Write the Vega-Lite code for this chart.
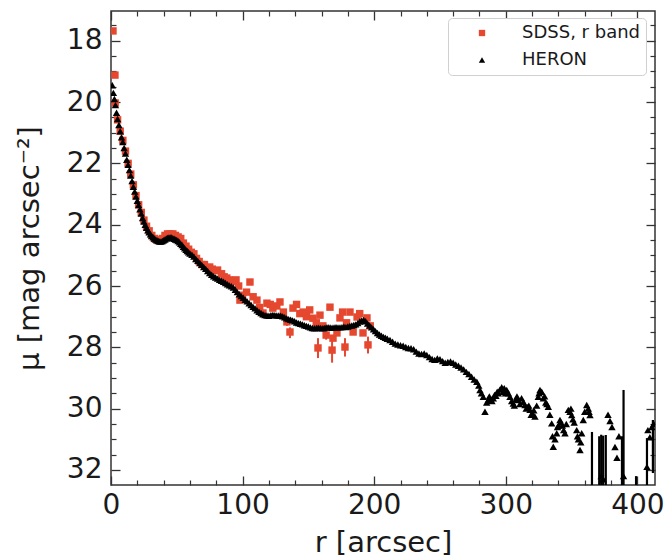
{
  "$schema": "https://vega.github.io/schema/vega-lite/v6.json",
  "width": 544,
  "height": 474,
  "autosize": {"type": "none"},
  "padding": {"left": 111, "top": 11, "right": 9, "bottom": 72},
  "background": "white",
  "config": {"view": {"stroke": "#333333", "strokeWidth": 1.5}, "font": "DejaVu Sans"},
  "datasets": {
    "sdss": [
      {"r":1.5,"mu":17.68},{"r":3,"mu":19.12},{"r":3.2,"mu":20.03},{"r":5,"mu":20.58},{"r":7,"mu":20.95},{"r":9,"mu":21.25},{"r":11,"mu":21.6},{"r":13,"mu":22.0},{"r":15,"mu":22.35},{"r":17,"mu":22.7},{"r":19,"mu":23.05},{"r":21,"mu":23.35},{"r":23,"mu":23.6},{"r":25,"mu":23.85},{"r":27,"mu":24.05},{"r":29,"mu":24.2},{"r":31,"mu":24.35},{"r":33,"mu":24.45},{"r":35,"mu":24.5},{"r":37,"mu":24.5},{"r":39,"mu":24.45},{"r":41,"mu":24.35},{"r":43,"mu":24.3},{"r":45,"mu":24.3},{"r":47,"mu":24.3},{"r":49,"mu":24.35},{"r":51,"mu":24.4},{"r":53,"mu":24.45},{"r":55,"mu":24.6},{"r":57,"mu":24.7},{"r":59,"mu":24.8},{"r":61,"mu":24.9},{"r":63,"mu":24.95},{"r":65,"mu":25.1},{"r":67,"mu":25.2},{"r":69,"mu":25.3},{"r":71,"mu":25.3},{"r":73,"mu":25.4},{"r":75,"mu":25.38},{"r":77,"mu":25.45},{"r":79,"mu":25.5},{"r":81,"mu":25.48},{"r":84,"mu":25.6},{"r":86,"mu":25.7},{"r":88,"mu":25.74},{"r":90,"mu":25.8},{"r":92,"mu":25.85},{"r":95,"mu":25.8},{"r":97,"mu":26.0},{"r":98,"mu":26.46},{"r":100,"mu":26.3},{"r":103,"mu":26.2},{"r":105.6,"mu":25.87},{"r":108,"mu":26.35},{"r":110.9,"mu":26.46},{"r":113,"mu":26.7},{"r":115.5,"mu":26.88},{"r":118.5,"mu":26.56},{"r":121,"mu":26.6},{"r":123,"mu":26.72},{"r":126,"mu":26.65},{"r":128.4,"mu":26.52},{"r":131,"mu":26.85},{"r":133.7,"mu":27.17},{"r":136,"mu":27.5},{"r":138.3,"mu":26.72},{"r":141,"mu":26.6},{"r":143.5,"mu":26.9},{"r":146,"mu":26.85},{"r":148.5,"mu":27.0},{"r":151,"mu":26.78},{"r":153.5,"mu":27.05},{"r":156,"mu":27.2},{"r":157.3,"mu":28.02},{"r":158.8,"mu":26.95},{"r":161,"mu":27.3},{"r":163.5,"mu":27.6},{"r":166.4,"mu":26.69},{"r":168,"mu":28.09},{"r":168.7,"mu":27.7},{"r":171.7,"mu":27.53},{"r":174,"mu":27.04},{"r":176,"mu":26.85},{"r":177.8,"mu":27.99},{"r":179,"mu":27.2},{"r":181.6,"mu":26.85},{"r":184,"mu":27.5},{"r":187,"mu":27.01},{"r":189,"mu":26.9},{"r":191.5,"mu":27.53},{"r":194.5,"mu":27.04},{"r":195.3,"mu":27.92},{"r":197,"mu":27.3}
    ],
    "sdssErr": [
      {"r":136,"lo":27.35,"hi":27.7},{"r":157.3,"lo":27.7,"hi":28.35},{"r":168,"lo":27.7,"hi":28.5},{"r":177.8,"lo":27.7,"hi":28.3},{"r":195.3,"lo":27.65,"hi":28.2},{"r":163.5,"lo":27.45,"hi":27.75},{"r":133.7,"lo":27.05,"hi":27.3}
    ],
    "heron": [
      {"r":1,"mu":19.45},{"r":1.8,"mu":19.7},{"r":2.6,"mu":19.9},{"r":3.4,"mu":20.1},{"r":4.2,"mu":20.35},{"r":5,"mu":20.55},{"r":6,"mu":20.75},{"r":7,"mu":20.95},{"r":8,"mu":21.15},{"r":9,"mu":21.3},{"r":10,"mu":21.5},{"r":11,"mu":21.68},{"r":12,"mu":21.88},{"r":13,"mu":22.05},{"r":14,"mu":22.22},{"r":15,"mu":22.4},{"r":16,"mu":22.58},{"r":17,"mu":22.76},{"r":18,"mu":22.92},{"r":19,"mu":23.08},{"r":20,"mu":23.22},{"r":21,"mu":23.36},{"r":22,"mu":23.5},{"r":23,"mu":23.64},{"r":24,"mu":23.78},{"r":25,"mu":23.9},{"r":26,"mu":24.0},{"r":27,"mu":24.1},{"r":28,"mu":24.18},{"r":29,"mu":24.25},{"r":30,"mu":24.31},{"r":31,"mu":24.37},{"r":32,"mu":24.41},{"r":33,"mu":24.45},{"r":34,"mu":24.48},{"r":35,"mu":24.51},{"r":36,"mu":24.53},{"r":37,"mu":24.55},{"r":38,"mu":24.55},{"r":39,"mu":24.53},{"r":40,"mu":24.51},{"r":41,"mu":24.48},{"r":42,"mu":24.45},{"r":43,"mu":24.43},{"r":44,"mu":24.42},{"r":45,"mu":24.42},{"r":46,"mu":24.42},{"r":47,"mu":24.44},{"r":48,"mu":24.46},{"r":49,"mu":24.48},{"r":50,"mu":24.5},{"r":51,"mu":24.53},{"r":52,"mu":24.57},{"r":53,"mu":24.62},{"r":54,"mu":24.66},{"r":55,"mu":24.72},{"r":56,"mu":24.77},{"r":57,"mu":24.82},{"r":58,"mu":24.86},{"r":59,"mu":24.9},{"r":60,"mu":24.94},
      {"r":61.5,"mu":24.98},{"r":63,"mu":25.04},{"r":64.5,"mu":25.12},{"r":66,"mu":25.18},{"r":67.5,"mu":25.25},{"r":69,"mu":25.31},{"r":70.5,"mu":25.38},{"r":72,"mu":25.44},{"r":73.5,"mu":25.51},{"r":75,"mu":25.58},{"r":76.5,"mu":25.63},{"r":78,"mu":25.68},{"r":79.5,"mu":25.72},{"r":81,"mu":25.76},{"r":82.5,"mu":25.8},{"r":84,"mu":25.83},{"r":85.5,"mu":25.86},{"r":87,"mu":25.9},{"r":88.5,"mu":25.94},{"r":90,"mu":25.98},{"r":91.5,"mu":26.01},{"r":93,"mu":26.05},{"r":94.5,"mu":26.12},{"r":96,"mu":26.2},{"r":97.5,"mu":26.27},{"r":99,"mu":26.33},{"r":100.5,"mu":26.38},{"r":102,"mu":26.45},{"r":103.5,"mu":26.5},{"r":105,"mu":26.56},{"r":106.5,"mu":26.62},{"r":108,"mu":26.68},{"r":109.5,"mu":26.73},{"r":111,"mu":26.79},{"r":112.5,"mu":26.84},{"r":114,"mu":26.88},{"r":115.5,"mu":26.92},{"r":117,"mu":26.95},{"r":118.5,"mu":26.96},{"r":120,"mu":26.97},{"r":121.5,"mu":26.95},{"r":123,"mu":26.94},{"r":124.5,"mu":26.95},{"r":126,"mu":26.96},{"r":127.5,"mu":26.96},{"r":129,"mu":26.97},{"r":130.5,"mu":26.99},{"r":132,"mu":27.02},{"r":133.5,"mu":27.05},{"r":135,"mu":27.08},{"r":136.5,"mu":27.1},{"r":138,"mu":27.12},{"r":139.5,"mu":27.15},{"r":141,"mu":27.19},{"r":142.5,"mu":27.21},{"r":144,"mu":27.23},{"r":145.5,"mu":27.25},{"r":147,"mu":27.28},{"r":148.5,"mu":27.3},{"r":150,"mu":27.32},{"r":151.5,"mu":27.35},{"r":153,"mu":27.37},{"r":154.5,"mu":27.38},{"r":156,"mu":27.37},{"r":157.5,"mu":27.36},{"r":159,"mu":27.37},{"r":160.5,"mu":27.38},{"r":162,"mu":27.37},{"r":163.5,"mu":27.35},{"r":165,"mu":27.34},{"r":166.5,"mu":27.35},{"r":168,"mu":27.36},{"r":169.5,"mu":27.35},{"r":171,"mu":27.34},{"r":172.5,"mu":27.35},{"r":174,"mu":27.35},{"r":175.5,"mu":27.34},{"r":177,"mu":27.33},{"r":178.5,"mu":27.34},{"r":180,"mu":27.32},{"r":181.5,"mu":27.3},{"r":183,"mu":27.29},{"r":184.5,"mu":27.27},{"r":186,"mu":27.25},{"r":187.5,"mu":27.21},{"r":189,"mu":27.16},{"r":190.5,"mu":27.12},{"r":192,"mu":27.11},{"r":193.5,"mu":27.15},{"r":195,"mu":27.22},{"r":196.5,"mu":27.29},{"r":198,"mu":27.35},{"r":199.5,"mu":27.41},
      {"r":201,"mu":27.47},{"r":202.5,"mu":27.53},{"r":204,"mu":27.58},{"r":205.5,"mu":27.62},{"r":207,"mu":27.66},{"r":208.5,"mu":27.69},{"r":210,"mu":27.72},{"r":212,"mu":27.76},{"r":214,"mu":27.82},{"r":216,"mu":27.88},{"r":218,"mu":27.91},{"r":220,"mu":27.93},{"r":222,"mu":27.95},{"r":224,"mu":27.99},{"r":226,"mu":28.02},{"r":228,"mu":28.03},{"r":230,"mu":28.06},{"r":232,"mu":28.14},{"r":234,"mu":28.2},{"r":236,"mu":28.22},{"r":238,"mu":28.2},{"r":240,"mu":28.25},{"r":242,"mu":28.32},{"r":244,"mu":28.38},{"r":246,"mu":28.41},{"r":248,"mu":28.36},{"r":250,"mu":28.39},{"r":252,"mu":28.45},{"r":254,"mu":28.5},{"r":256,"mu":28.48},{"r":258,"mu":28.46},{"r":260,"mu":28.5},{"r":262,"mu":28.56},{"r":264,"mu":28.6},{"r":266,"mu":28.66},{"r":268,"mu":28.72},{"r":270,"mu":28.8},{"r":272,"mu":28.87},{"r":274,"mu":28.96},{"r":276,"mu":29.05},{"r":278,"mu":29.12},{"r":280.4,"mu":29.39},{"r":282.9,"mu":29.61},{"r":284.2,"mu":30.1},{"r":286.7,"mu":29.72},{"r":288.5,"mu":29.68},{"r":290.5,"mu":29.66},{"r":292.5,"mu":29.58},{"r":294.3,"mu":29.5},{"r":296.9,"mu":29.3},{"r":298.8,"mu":29.33},{"r":300.7,"mu":29.39},{"r":303.2,"mu":29.61},{"r":305.7,"mu":29.83},{"r":307.6,"mu":29.7},{"r":309.5,"mu":29.72},{"r":312,"mu":29.66},{"r":314.6,"mu":29.88},{"r":316.5,"mu":29.95},{"r":318.4,"mu":30.04},{"r":320.3,"mu":30.15},{"r":322.2,"mu":30.26},{"r":324.7,"mu":29.61},{"r":326,"mu":29.39},{"r":327.3,"mu":29.45},{"r":328.5,"mu":29.66},{"r":330.4,"mu":29.8},{"r":332.3,"mu":29.94},{"r":334.9,"mu":30.48},{"r":336.1,"mu":31.24},{"r":337.4,"mu":31.0},{"r":338.7,"mu":30.8},{"r":340,"mu":30.55},{"r":341.2,"mu":30.37},{"r":343,"mu":30.55},{"r":345,"mu":30.8},{"r":347.5,"mu":30.04},{"r":348.8,"mu":30.1},{"r":350.1,"mu":30.21},{"r":352,"mu":30.45},{"r":353.9,"mu":30.7},{"r":355.2,"mu":31.0},{"r":356.4,"mu":31.35},{"r":357.7,"mu":30.8},{"r":358.9,"mu":30.37},{"r":361.5,"mu":29.88},{"r":362.7,"mu":30.0},{"r":364,"mu":30.21},{"r":372.5,"mu":32.2},{"r":374,"mu":32.3},{"r":377.7,"mu":30.2},{"r":379.2,"mu":30.4},{"r":380.7,"mu":30.6},{"r":383,"mu":31.25},{"r":384.5,"mu":31.6},{"r":386,"mu":30.9},{"r":389.5,"mu":32.2},{"r":407.3,"mu":31.9},{"r":408,"mu":30.7},{"r":409.5,"mu":30.93},{"r":411,"mu":30.6},{"r":412.5,"mu":30.5},
      {"r":279.5,"mu":29.25},{"r":281.5,"mu":29.5},{"r":285.5,"mu":29.8},{"r":287.5,"mu":29.6},{"r":289.5,"mu":29.75},{"r":291.5,"mu":29.55},{"r":293.5,"mu":29.45},{"r":295.5,"mu":29.38},{"r":297.8,"mu":29.45},{"r":299.8,"mu":29.5},{"r":302,"mu":29.5},{"r":304.5,"mu":29.75},{"r":306.5,"mu":29.9},{"r":308.5,"mu":29.6},{"r":310.7,"mu":29.85},{"r":313.3,"mu":29.78},{"r":315.5,"mu":30.0},{"r":317.5,"mu":29.9},{"r":319.3,"mu":30.2},{"r":321.3,"mu":30.05},{"r":323.5,"mu":29.9},{"r":325.3,"mu":29.5},{"r":329.5,"mu":29.6},{"r":331.3,"mu":29.85},{"r":333.5,"mu":30.2},{"r":335.5,"mu":30.9},{"r":339.3,"mu":30.6},{"r":342,"mu":30.45},{"r":344,"mu":30.7},{"r":346,"mu":30.5},{"r":349.5,"mu":30.0},{"r":351,"mu":30.35},{"r":354.5,"mu":30.9},{"r":357,"mu":31.1},{"r":360,"mu":30.1},{"r":363.3,"mu":30.1}
    ],
    "heronErr": [
      {"r":365.5,"lo":30.76,"hi":34.8},{"r":371,"lo":30.9,"hi":33.9},{"r":372.5,"lo":30.85,"hi":33.6},{"r":374,"lo":30.88,"hi":33.7},{"r":376,"lo":30.86,"hi":33.9},{"r":388.3,"lo":30.9,"hi":33.3},{"r":389.5,"lo":29.39,"hi":35},{"r":399,"lo":32.2,"hi":33.2},{"r":407.3,"lo":30.96,"hi":32.9},{"r":411.8,"lo":30.37,"hi":32.1}
    ]
  },
  "layer": [
    {
      "data": {"name": "sdssErr"},
      "mark": {"type": "rule", "color": "#e5472f", "strokeWidth": 2, "clip": true},
      "encoding": {
        "x": {"field": "r", "type": "quantitative",
          "scale": {"domain": [0, 413.4], "nice": false, "zero": false},
          "axis": {"orient": "bottom", "values": [0,100,200,300,400], "format": "d",
            "title": "r [arcsec]", "domain": false, "grid": false,
            "offset": -9, "tickSize": 9, "tickColor": "#333333", "tickWidth": 1.3,
            "labelFontSize": 28, "labelColor": "#1a1a1a", "labelPadding": 6, "labelFlush": false, "labelOverlap": false,
            "titleFontSize": 29, "titleFontWeight": "normal", "titleColor": "#1a1a1a", "titlePadding": 9}},
        "y": {"field": "lo", "type": "quantitative",
          "scale": {"domain": [17.03, 32.49], "reverse": true, "nice": false, "zero": false},
          "axis": {"orient": "left", "values": [18,20,22,24,26,28,30,32], "format": "d",
            "title": "μ [mag arcsec⁻²]", "domain": false, "grid": false,
            "offset": -9, "tickSize": 9, "tickColor": "#333333", "tickWidth": 1.3,
            "labelFontSize": 28, "labelColor": "#1a1a1a", "labelPadding": 9, "labelOverlap": false,
            "titleFontSize": 29, "titleFontWeight": "normal", "titleColor": "#1a1a1a", "titlePadding": 22}},
        "y2": {"field": "hi"}
      }
    },
    {
      "data": {"name": "sdss"},
      "mark": {"type": "point", "filled": true, "size": 55, "opacity": 1, "clip": true},
      "encoding": {
        "x": {"field": "r", "type": "quantitative",
          "axis": {"orient": "top", "values": [0,100,200,300,400], "labels": false, "title": null, "domain": false, "grid": false,
            "offset": -9, "tickSize": 9, "tickColor": "#333333", "tickWidth": 1.3}},
        "y": {"field": "mu", "type": "quantitative",
          "axis": {"orient": "right", "values": [18,20,22,24,26,28,30,32], "labels": false, "title": null, "domain": false, "grid": false,
            "offset": -9, "tickSize": 9, "tickColor": "#333333", "tickWidth": 1.3}},
        "color": {"datum": "SDSS, r band", "type": "nominal",
          "scale": {"domain": ["SDSS, r band", "HERON"], "range": ["#e5472f", "#000000"]},
          "legend": {"orient": "none", "legendX": 337, "legendY": 7, "title": null, "labelFontSize": 18, "labelFont": "DejaVu Sans", "labelColor": "#1a1a1a", "labelExpr": "datum.label + '\u00a0\u00a0'", "symbolSize": 40, "strokeColor": "#d0d0d0", "fillColor": "white", "cornerRadius": 4, "padding": 6, "rowPadding": 9, "symbolOffset": 19, "labelOffset": 31, "labelLimit": 300}},
        "shape": {"datum": "SDSS, r band", "type": "nominal",
          "scale": {"domain": ["SDSS, r band", "HERON"], "range": ["square", "triangle-up"]},
          "legend": {"orient": "none", "legendX": 337, "legendY": 7, "title": null, "labelFontSize": 18, "labelFont": "DejaVu Sans", "labelColor": "#1a1a1a", "labelExpr": "datum.label + '\u00a0\u00a0'", "symbolSize": 40, "strokeColor": "#d0d0d0", "fillColor": "white", "cornerRadius": 4, "padding": 6, "rowPadding": 9, "symbolOffset": 19, "labelOffset": 31, "labelLimit": 300}}
      }
    },
    {
      "data": {"name": "heronErr"},
      "mark": {"type": "rule", "color": "#000000", "strokeWidth": 2.2, "clip": true},
      "encoding": {
        "x": {"field": "r", "type": "quantitative",
          "axis": {"orient": "bottom", "values": [20,40,60,80,120,140,160,180,220,240,260,280,320,340,360,380], "labels": false, "title": null, "domain": false, "grid": false,
            "offset": -5, "tickSize": 5, "tickColor": "#333333", "tickWidth": 1.2}},
        "y": {"field": "lo", "type": "quantitative",
          "axis": {"orient": "left", "values": [17.5,18.5,19,19.5,20.5,21,21.5,22.5,23,23.5,24.5,25,25.5,26.5,27,27.5,28.5,29,29.5,30.5,31,31.5], "labels": false, "title": null, "domain": false, "grid": false,
            "offset": -5, "tickSize": 5, "tickColor": "#333333", "tickWidth": 1.2}},
        "y2": {"field": "hi"}
      }
    },
    {
      "data": {"name": "heron"},
      "mark": {"type": "point", "filled": true, "size": 55, "opacity": 1, "clip": true},
      "encoding": {
        "x": {"field": "r", "type": "quantitative",
          "axis": {"orient": "top", "values": [20,40,60,80,120,140,160,180,220,240,260,280,320,340,360,380], "labels": false, "title": null, "domain": false, "grid": false,
            "offset": -5, "tickSize": 5, "tickColor": "#333333", "tickWidth": 1.2}},
        "y": {"field": "mu", "type": "quantitative",
          "axis": {"orient": "right", "values": [17.5,18.5,19,19.5,20.5,21,21.5,22.5,23,23.5,24.5,25,25.5,26.5,27,27.5,28.5,29,29.5,30.5,31,31.5], "labels": false, "title": null, "domain": false, "grid": false,
            "offset": -5, "tickSize": 5, "tickColor": "#333333", "tickWidth": 1.2}},
        "color": {"datum": "HERON", "type": "nominal"},
        "shape": {"datum": "HERON", "type": "nominal"}
      }
    }
  ],
  "resolve": {"axis": {"x": "independent", "y": "independent"}}
}
